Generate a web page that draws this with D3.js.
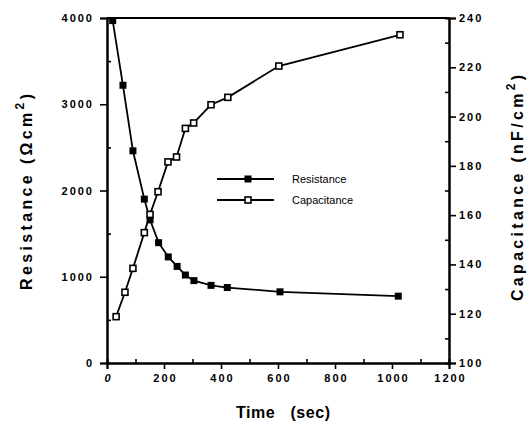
<!DOCTYPE html>
<html>
<head>
<meta charset="utf-8">
<script src="https://cdn.jsdelivr.net/npm/d3@7"></script>
<style>
  body { margin: 0; background: #fff; }
  text { font-family: "Liberation Sans", Arial, sans-serif; }
</style>
</head>
<body>
<div id="chart"></div>
<script>
// Resistance series (left axis)
const timeR = [20, 56, 91, 131, 151, 181, 215, 246, 275, 305, 365, 422, 607, 1022];
const resistance = [3970, 3220, 2460, 1900, 1660, 1395, 1230, 1120, 1020, 955, 900, 875, 825, 775];

// Capacitance series (right axis)
const timeC = [32, 63, 91, 131, 151, 179, 214, 244, 275, 304, 365, 424, 603, 1028];
const capacitance = [118.8, 128.7, 138.4, 152.9, 160.3, 169.5, 181.6, 183.6, 195.2, 197.4, 204.8, 207.8, 220.5, 233.2];

const xTicks = [0, 200, 400, 600, 800, 1000, 1200];
const leftTicks = [0, 1000, 2000, 3000, 4000];
const rightTicks = [100, 120, 140, 160, 180, 200, 220, 240];

const W = 529, H = 423;
const margin = { top: 18, right: 80, bottom: 60, left: 107 };
const width = 449 - margin.left;
const height = 363 - margin.top;

const svg = d3.select('#chart').append('svg')
    .attr('width', W)
    .attr('height', H);

const g = svg.append('g')
    .attr('transform', `translate(${margin.left},${margin.top})`);

const x = d3.scaleLinear().domain([0, 1200]).range([0, width]);
const yL = d3.scaleLinear().domain([0, 4000]).range([height, 0]);
const yR = d3.scaleLinear().domain([100, 240]).range([height, 0]);

// minor ticks first (inside), then major ticks (outside)
g.append('g')
    .attr('transform', `translate(0,${height})`)
    .call(d3.axisBottom(x).tickValues(d3.range(100, 1200, 200)).tickSize(-4).tickFormat(''));
g.append('g')
    .call(d3.axisLeft(yL).tickValues(d3.range(500, 4000, 1000)).tickSize(-4).tickFormat(''));
g.append('g')
    .attr('transform', `translate(${width},0)`)
    .call(d3.axisRight(yR).tickValues(d3.range(110, 240, 20)).tickSize(-4).tickFormat(''));

const fmt = d3.format('d');
const xAxis = g.append('g')
    .attr('transform', `translate(0,${height})`)
    .call(d3.axisBottom(x).tickValues(xTicks).tickSize(6).tickPadding(5).tickFormat(fmt));
const lAxis = g.append('g')
    .call(d3.axisLeft(yL).tickValues(leftTicks).tickSize(7).tickPadding(6).tickFormat(fmt));
const rAxis = g.append('g')
    .attr('transform', `translate(${width},0)`)
    .call(d3.axisRight(yR).tickValues(rightTicks).tickSize(7).tickPadding(3).tickFormat(fmt));

g.selectAll('.domain').attr('stroke', '#000').attr('stroke-width', 2);
g.selectAll('.tick line').attr('stroke', '#000').attr('stroke-width', 1.6);
g.selectAll('.tick text')
    .attr('fill', '#000')
    .style('font-family', '"Liberation Sans", Arial, sans-serif')
    .style('font-weight', 'bold')
    .style('font-size', '11px')
    .style('letter-spacing', '2px');
// letter-spacing adds trailing space; nudge centred labels
xAxis.selectAll('.tick text').attr('dx', 1);
xAxis.selectAll('.tick text').filter(d => d === 0).style('font-style', 'italic');

// top border
g.append('line')
    .attr('x1', 0).attr('x2', width)
    .attr('y1', 0).attr('y2', 0)
    .attr('stroke', '#000').attr('stroke-width', 2);

// lines
const rData = timeR.map((t, i) => ({ t, v: resistance[i] }));
const cData = timeC.map((t, i) => ({ t, v: capacitance[i] }));

g.append('path')
    .datum(rData)
    .attr('fill', 'none')
    .attr('stroke', '#000')
    .attr('stroke-width', 1.8)
    .attr('d', d3.line().x(d => x(d.t)).y(d => yL(d.v)));

g.append('path')
    .datum(cData)
    .attr('fill', 'none')
    .attr('stroke', '#000')
    .attr('stroke-width', 1.8)
    .attr('d', d3.line().x(d => x(d.t)).y(d => yR(d.v)));

const ms = 7;
g.selectAll('.rpt')
    .data(rData)
    .enter()
    .append('rect')
    .attr('x', d => x(d.t) - ms / 2)
    .attr('y', d => yL(d.v) - ms / 2)
    .attr('width', ms).attr('height', ms)
    .attr('fill', '#000');

g.selectAll('.cpt')
    .data(cData)
    .enter()
    .append('rect')
    .attr('x', d => x(d.t) - ms / 2 + 0.5)
    .attr('y', d => yR(d.v) - ms / 2 + 0.5)
    .attr('width', ms - 1).attr('height', ms - 1)
    .attr('fill', '#fff')
    .attr('stroke', '#000')
    .attr('stroke-width', 1.6);

// legend
const legend = svg.append('g');
const legendItems = [
    { name: 'Resistance', filled: true, y: 179 },
    { name: 'Capacitance', filled: false, y: 200 }
];
legendItems.forEach(d => {
    legend.append('line')
        .attr('x1', 217).attr('x2', 274)
        .attr('y1', d.y).attr('y2', d.y)
        .attr('stroke', '#000').attr('stroke-width', 1.8);
    legend.append('rect')
        .attr('x', 248 - ms / 2 + (d.filled ? 0 : 0.5))
        .attr('y', d.y - ms / 2 + (d.filled ? 0 : 0.5))
        .attr('width', d.filled ? ms : ms - 1)
        .attr('height', d.filled ? ms : ms - 1)
        .attr('fill', d.filled ? '#000' : '#fff')
        .attr('stroke', d.filled ? 'none' : '#000')
        .attr('stroke-width', 1.6);
    legend.append('text')
        .attr('x', 292)
        .attr('y', d.y + 4)
        .style('font-size', '11px')
        .text(d.name);
});

// axis titles
const titleStyle = sel => sel
    .attr('text-anchor', 'middle')
    .attr('lengthAdjust', 'spacing')
    .style('font-size', '16px')
    .style('font-weight', 'bold');

svg.append('text')
    .attr('x', 283).attr('y', 418)
    .call(titleStyle)
    .attr('textLength', 94)
    .attr('xml:space', 'preserve')
    .text('Time   (sec)');

const lt = svg.append('text')
    .attr('transform', 'translate(32,192) rotate(-90)')
    .call(titleStyle)
    .attr('textLength', 196);
lt.append('tspan').text('Resistance (Ωcm');
lt.append('tspan').attr('dy', -8).style('font-size', '12px').text('2');
lt.append('tspan').attr('dy', 8).text(')');

const rt = svg.append('text')
    .attr('transform', 'translate(523,188) rotate(-90)')
    .call(titleStyle)
    .attr('textLength', 226);
rt.append('tspan').text('Capacitance (nF/cm');
rt.append('tspan').attr('dy', -8).style('font-size', '12px').text('2');
rt.append('tspan').attr('dy', 8).text(')');
</script>
</body>
</html>
